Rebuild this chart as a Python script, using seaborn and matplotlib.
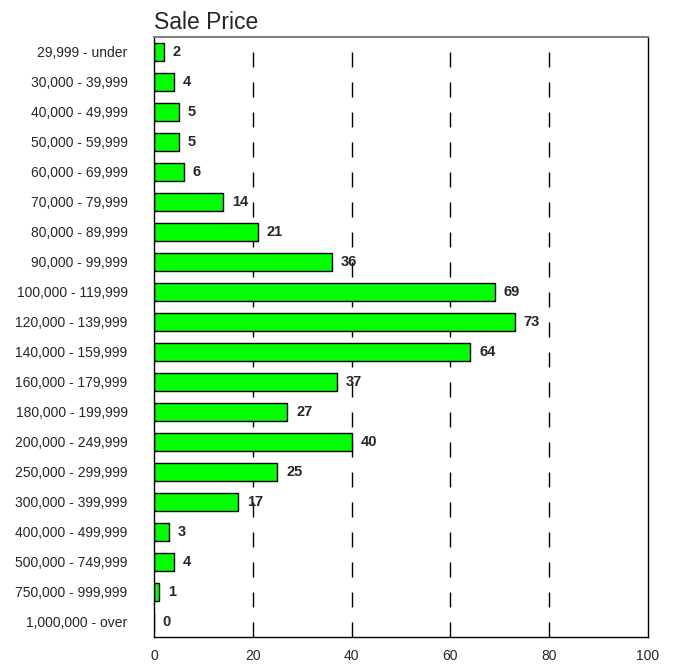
import matplotlib
matplotlib.use("Agg")
import matplotlib.pyplot as plt
import seaborn as sns
import pandas as pd

# data
price_ranges = ["29,999 - under", "30,000 - 39,999", "40,000 - 49,999", "50,000 - 59,999",
                "60,000 - 69,999", "70,000 - 79,999", "80,000 - 89,999", "90,000 - 99,999",
                "100,000 - 119,999", "120,000 - 139,999", "140,000 - 159,999", "160,000 - 179,999",
                "180,000 - 199,999", "200,000 - 249,999", "250,000 - 299,999", "300,000 - 399,999",
                "400,000 - 499,999", "500,000 - 749,999", "750,000 - 999,999", "1,000,000 - over"]
counts = [2, 4, 5, 5, 6, 14, 21, 36, 69, 73, 64, 37, 27, 40, 25, 17, 3, 4, 1, 0]
x_ticks = [0, 20, 40, 60, 80, 100]

df = pd.DataFrame({"range": price_ranges, "count": counts})

sns.set_style("white")
plt.rcParams['font.family'] = ['Liberation Sans', 'DejaVu Sans']

fig = plt.figure(figsize=(6.75, 6.64), dpi=100)
ax = fig.add_axes([0.228, 0.0407, 0.732, 0.9036])

# dashed gridlines behind the bars
for xv in x_ticks[1:-1]:
    ax.axvline(xv, color='black', lw=1, dashes=(10.8, 10.8), zorder=0)

sns.barplot(data=df, y="range", x="count", orient="h", color="#00ff00",
            saturation=1, width=0.6, edgecolor="black", linewidth=1, ax=ax, zorder=2)

# value labels next to each bar
for i, v in enumerate(counts):
    ax.text(v + 1.8, i, str(v), va='center', ha='left', fontsize=10.5, fontweight='bold', zorder=3)

ax.set_xlim(0, 100)
ax.set_ylim(len(counts) - 0.5, -0.5)
ax.set_xticks(x_ticks)
ax.set_xlabel("")
ax.set_ylabel("")
ax.set_axisbelow(False)  # white inward ticks show on top of the bars
ax.tick_params(axis='x', length=0, labelsize=10, pad=9)
ax.tick_params(axis='y', direction='in', length=5, width=1, color='white', labelsize=10, pad=19)

for s in ['left', 'right', 'bottom']:
    ax.spines[s].set_color('black')
    ax.spines[s].set_linewidth(1)
ax.spines['top'].set_color('#808080')
ax.spines['top'].set_linewidth(1.5)

ax.set_title("Sale Price", loc='left', fontsize=16.5, pad=6)

fig.savefig("out.png", dpi=100)
